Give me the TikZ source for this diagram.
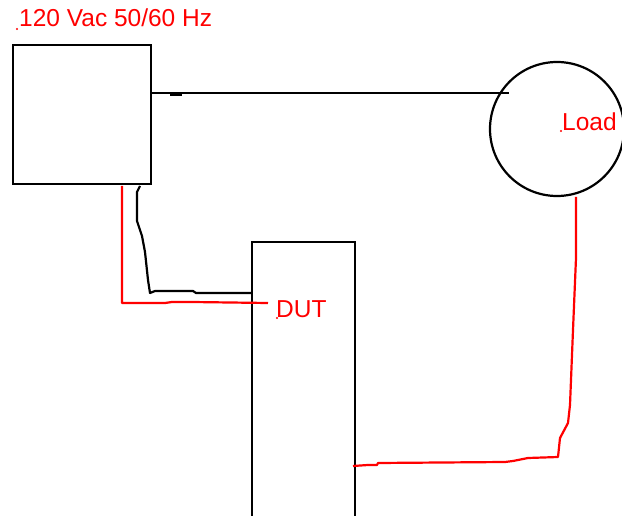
\documentclass[tikz,border=0pt]{standalone}
\usepackage{fontspec}
\setmainfont{Liberation Sans}
\usetikzlibrary{calc}

\tikzset{
    box/.style={draw, line width=2.2pt, inner sep=0pt, anchor=north west},
    wire/.style={line width=2.2pt, line join=round},
    redwire/.style={wire, red},
    lbl/.style={red, inner sep=0pt, anchor=base west, font=\fontsize{24.5}{27}\selectfont}
}

\begin{document}
\begin{tikzpicture}[x=1pt,y=-1pt]
    \useasboundingbox (0,0) rectangle (622,516);
    \clip (0,0) rectangle (622,516);

    \node[box, minimum width=138pt, minimum height=139pt] (src) at (12,44) {};
    \node[box, minimum width=103pt, minimum height=300pt] (dut) at (251,241) {};
    \node[draw, circle, line width=2.2pt, minimum size=134pt] (load) at (557,129) {};

    \coordinate (loadin) at (509,93);
    \coordinate (dutin) at (268,303);
    \coordinate (loadout) at (576,197);
    \coordinate (dutout) at (353,466);

\draw[wire] ($(src.north east)+(0,49)$) -- (168,93) -- (183,93) -- (300,93) -- (loadin);
\draw[wire] (170,95) -- (182,95);
\draw[wire] (140,186) -- (137,192) -- (137,221) -- (142,236) -- (145,252) -- (148,280)
    -- (150,293) -- (155,291) -- (193,291) -- (196,293) -- (dut.west |- 0,293);
\draw[redwire] (122,186) -- (122,303) -- (165,303) -- (172,302) -- (192,302) -- (dutin);
\draw[redwire] (loadout) -- (576,258) -- (573,330) -- (570,405) -- (568,423) -- (560,438)
    -- (558,457) -- (528,458) -- (513,461) -- (505,462) -- (378,463) -- (377,465)
    -- (368,465) -- (dutout);

\node[lbl] (srclbl) at (19,27) {120 Vac 50/60 Hz};
\node[lbl] (loadlbl) at (562,131) {Load};
\node[lbl] (dutlbl) at (276,317) {DUT};
\fill[red] (17,29) circle (1.2pt) (561,131) circle (1.2pt) (277,318) circle (1.2pt);
  \end{tikzpicture}
\end{document}
